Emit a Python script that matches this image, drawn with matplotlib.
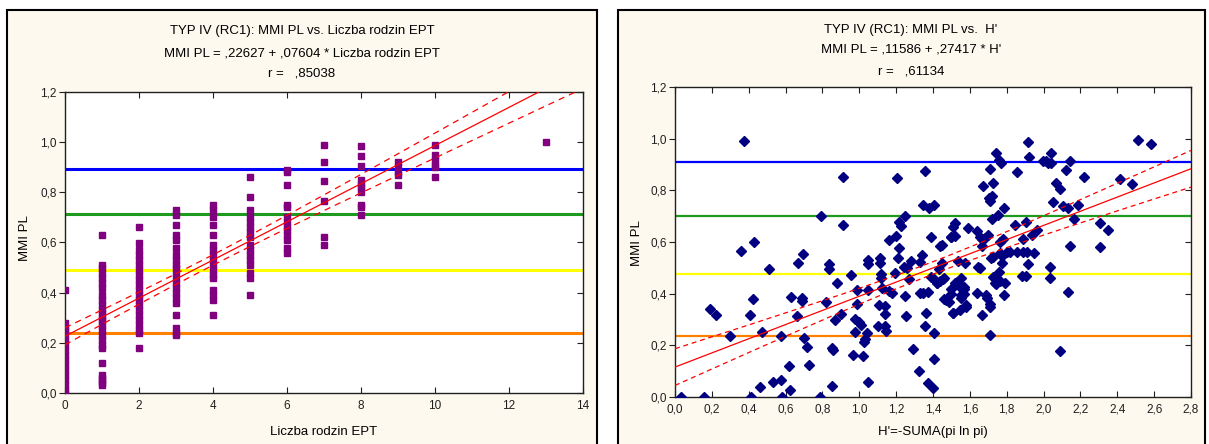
import numpy as np
import matplotlib
matplotlib.use("Agg")
import matplotlib.pyplot as plt
from matplotlib.patches import Rectangle
from matplotlib.ticker import FuncFormatter, MultipleLocator

plt.rcParams['font.family'] = ['Liberation Sans', 'DejaVu Sans']

# ---------------- data: MMI PL vs number of EPT families ----------------
ept_levels = [0, 1, 2, 3, 4, 5, 6, 7, 8, 9, 10, 13]
mmi_ept0 = [0.41, 0.28, 0.26, 0.25, 0.23, 0.21, 0.19, 0.17, 0.15, 0.13, 0.11,
            0.09, 0.07, 0.05, 0.03, 0.01, 0.0]
mmi_ept1 = [0.63, 0.51, 0.50, 0.48, 0.46, 0.44, 0.42, 0.39, 0.37, 0.35, 0.33,
            0.32, 0.30, 0.29, 0.27, 0.25, 0.23, 0.21, 0.19, 0.18, 0.12, 0.07,
            0.06, 0.05, 0.04, 0.03]
mmi_ept2 = [0.66, 0.60, 0.57, 0.55, 0.53, 0.51, 0.49, 0.47, 0.45, 0.43, 0.41,
            0.39, 0.37, 0.35, 0.33, 0.31, 0.29, 0.27, 0.25, 0.24, 0.18]
mmi_ept3 = [0.73, 0.71, 0.67, 0.63, 0.61, 0.58, 0.55, 0.53, 0.51, 0.50, 0.48,
            0.46, 0.44, 0.42, 0.40, 0.38, 0.36, 0.31, 0.26, 0.24, 0.23]
mmi_ept4 = [0.75, 0.73, 0.70, 0.67, 0.63, 0.59, 0.57, 0.55, 0.53, 0.51, 0.49,
            0.47, 0.46, 0.41, 0.39, 0.37, 0.31]
mmi_ept5 = [0.86, 0.78, 0.73, 0.70, 0.68, 0.66, 0.64, 0.62, 0.59, 0.57, 0.55,
            0.53, 0.51, 0.48, 0.46, 0.39]
mmi_ept6 = [0.89, 0.88, 0.83, 0.75, 0.74, 0.70, 0.68, 0.66, 0.65, 0.63, 0.61,
            0.58, 0.56]
mmi_ept7 = [0.99, 0.92, 0.845, 0.765, 0.62, 0.59]
mmi_ept8 = [0.985, 0.945, 0.905, 0.85, 0.83, 0.82, 0.80, 0.75, 0.74, 0.71]
mmi_ept9 = [0.92, 0.90, 0.88, 0.87, 0.83]
mmi_ept10 = [0.99, 0.95, 0.93, 0.91, 0.90, 0.86]
mmi_ept13 = [1.00]
mmi_ept_groups = [mmi_ept0, mmi_ept1, mmi_ept2, mmi_ept3, mmi_ept4, mmi_ept5,
                  mmi_ept6, mmi_ept7, mmi_ept8, mmi_ept9, mmi_ept10, mmi_ept13]

ept_intercept, ept_slope, ept_r = 0.22627, 0.07604, 0.85038

# ---------------- data: MMI PL vs Shannon diversity H' ----------------
h_index = [
    0.03, 0.16, 0.19, 0.22, 0.30, 0.36, 0.377, 0.406, 0.41, 0.424, 0.428, 0.46,
    0.47, 0.51, 0.53, 0.574, 0.574, 0.58, 0.625, 0.62, 0.63, 0.66, 0.667, 0.69,
    0.69, 0.694, 0.70, 0.714, 0.728, 0.786, 0.79, 0.82, 0.837, 0.837, 0.85,
    0.86, 0.85, 0.866, 0.88, 0.90, 0.913, 0.91, 0.953, 0.964, 0.975, 0.978,
    0.99, 0.986, 0.996, 1.007, 1.02, 1.025, 1.03, 1.04, 1.045, 1.045, 1.047,
    1.047, 1.11, 1.11, 1.105, 1.10, 1.12, 1.12, 1.123, 1.14, 1.14, 1.14, 1.145,
    1.16, 1.163, 1.18, 1.196, 1.20, 1.206, 1.21, 1.214, 1.214, 1.228, 1.24,
    1.246, 1.26, 1.269, 1.25, 1.256, 1.281, 1.29, 1.323, 1.327, 1.342, 1.332,
    1.346, 1.363, 1.356, 1.374, 1.401, 1.408, 1.405, 1.346, 1.354, 1.38, 1.405,
    1.387, 1.372, 1.39, 1.405, 1.419, 1.432, 1.437, 1.451, 1.451, 1.455, 1.462,
    1.471, 1.486, 1.495, 1.50, 1.507, 1.496, 1.51, 1.517, 1.517, 1.528, 1.535,
    1.541, 1.544, 1.55, 1.554, 1.568, 1.572, 1.578, 1.592, 1.637, 1.637, 1.646,
    1.655, 1.655, 1.664, 1.664, 1.666, 1.67, 1.681, 1.692, 1.696, 1.704, 1.708,
    1.708, 1.712, 1.715, 1.719, 1.721, 1.726, 1.726, 1.726, 1.743, 1.741, 1.752,
    1.756, 1.761, 1.761, 1.763, 1.769, 1.773, 1.773, 1.78, 1.783, 1.792, 1.787,
    1.803, 1.818, 1.845, 1.857, 1.857, 1.884, 1.889, 1.889, 1.906, 1.904, 1.911,
    1.917, 1.917, 1.921, 1.939, 1.948, 1.966, 1.998, 2.013, 2.026, 2.039, 2.043,
    2.034, 2.037, 2.05, 2.066, 2.09, 2.09, 2.104, 2.124, 2.133, 2.133, 2.144,
    2.146, 2.166, 2.188, 2.22, 2.307, 2.305, 2.351, 2.416, 2.478, 2.511, 2.583,
    1.52, 1.55, 1.57, 1.55, 1.57, 1.58, 1.51, 1.69, 1.707, 1.736, 1.758, 1.42,
    1.44, 1.46, 1.712, 1.50,
]
mmi_h = [
    0.00, 0.00, 0.34, 0.317, 0.237, 0.565, 0.99, 0.317, 0.00, 0.38, 0.60, 0.04,
    0.25, 0.494, 0.06, 0.067, 0.235, 0.00, 0.028, 0.119, 0.387, 0.312, 0.519,
    0.382, 0.373, 0.553, 0.228, 0.192, 0.124, 0.00, 0.702, 0.369, 0.516, 0.497,
    0.188, 0.183, 0.044, 0.297, 0.44, 0.321, 0.852, 0.666, 0.471, 0.164, 0.302,
    0.253, 0.415, 0.361, 0.289, 0.28, 0.16, 0.212, 0.225, 0.248, 0.53, 0.515,
    0.413, 0.057, 0.54, 0.52, 0.356, 0.276, 0.477, 0.462, 0.422, 0.351, 0.321,
    0.276, 0.254, 0.412, 0.608, 0.403, 0.48, 0.622, 0.846, 0.538, 0.577, 0.676,
    0.66, 0.502, 0.702, 0.498, 0.455, 0.39, 0.313, 0.528, 0.185, 0.101, 0.523,
    0.55, 0.401, 0.401, 0.324, 0.275, 0.056, 0.033, 0.149, 0.247, 0.745, 0.876,
    0.731, 0.745, 0.62, 0.408, 0.466, 0.455, 0.44, 0.494, 0.584, 0.587, 0.52,
    0.455, 0.38, 0.375, 0.369, 0.42, 0.398, 0.324, 0.62, 0.659, 0.672, 0.623,
    0.447, 0.528, 0.43, 0.337, 0.385, 0.462, 0.418, 0.52, 0.35, 0.656, 0.643,
    0.404, 0.505, 0.50, 0.62, 0.61, 0.316, 0.584, 0.818, 0.616, 0.385, 0.628,
    0.771, 0.239, 0.35, 0.881, 0.54, 0.779, 0.69, 0.827, 0.541, 0.466, 0.946,
    0.437, 0.703, 0.917, 0.60, 0.556, 0.449, 0.904, 0.546, 0.52, 0.611, 0.732,
    0.44, 0.396, 0.563, 0.562, 0.664, 0.87, 0.562, 0.468, 0.61, 0.562, 0.676,
    0.468, 0.562, 0.515, 0.986, 0.928, 0.626, 0.556, 0.646, 0.915, 0.912, 0.905,
    0.946, 0.905, 0.502, 0.46, 0.754, 0.827, 0.804, 0.18, 0.741, 0.879, 0.731,
    0.405, 0.915, 0.585, 0.69, 0.742, 0.853, 0.675, 0.58, 0.646, 0.843, 0.823,
    0.995, 0.98,
    0.44, 0.43, 0.427, 0.395, 0.40, 0.356, 0.324, 0.395, 0.36, 0.44, 0.485,
    0.44, 0.45, 0.46, 0.76, 0.62,
]

h_intercept, h_slope, h_r = 0.11586, 0.27417, 0.61134

# class boundary lines (very good / good / moderate / poor)
class_colors = ['#0000FF', '#1E9A1E', '#FFFF00', '#FF8000']
ept_class_limits = [0.895, 0.712, 0.490, 0.238]
h_class_limits = [0.910, 0.700, 0.475, 0.235]


def stat_num(v):
    """Number written the Statistica way: ',22627'."""
    s = f"{v:.5f}"
    if s.startswith("0."):
        s = s[1:]
    return s.replace(".", ",")


def comma_fmt(decimals):
    return FuncFormatter(lambda v, _: f"{v:.{decimals}f}".replace(".", ","))


def conf_band(x, y, a, b, xs, t=1.97):
    x = np.asarray(x, float)
    y = np.asarray(y, float)
    n = len(x)
    resid = y - (a + b * x)
    s = np.sqrt(np.sum(resid ** 2) / (n - 2))
    xbar = x.mean()
    sxx = np.sum((x - xbar) ** 2)
    half = t * s * np.sqrt(1.0 / n + (xs - xbar) ** 2 / sxx)
    fit = a + b * xs
    return fit - half, fit + half


W, H = 1209, 444
fig = plt.figure(figsize=(W / 100, H / 100), dpi=100)
fig.patch.set_facecolor('white')

panel_bg = '#FDF9EE'
for x0, x1 in [(7, 597), (618, 1205)]:
    fig.patches.append(Rectangle((x0 / W, -0.05), (x1 - x0) / W, 1.05 - 10 / H,
                                 transform=fig.transFigure, facecolor=panel_bg,
                                 edgecolor='black', linewidth=1.5, zorder=-5))


def px_rect(l, t, r, b):
    return [l / W, 1 - b / H, (r - l) / W, (b - t) / H]


def style_axes(ax, xmax, xstep, xdec):
    ax.set_zorder(2)
    ax.set_facecolor('white')
    ax.set_ylim(0, 1.2)
    ax.set_xlim(0, xmax)
    ax.yaxis.set_major_locator(MultipleLocator(0.2))
    ax.xaxis.set_major_locator(MultipleLocator(xstep))
    ax.yaxis.set_major_formatter(comma_fmt(1))
    ax.xaxis.set_major_formatter(comma_fmt(xdec))
    for sp in ax.spines.values():
        sp.set_linewidth(1.0)
        sp.set_color('#202020')
    ax.tick_params(axis='x', direction='in', top=True, bottom=True, length=4,
                   width=0.8, labelsize=8.5, pad=5, colors='#202020')
    ax.tick_params(axis='y', direction='out', left=True, right=False, length=4,
                   width=0.8, labelsize=8.5, pad=2, colors='#202020')
    twin = ax.twinx()
    twin.set_zorder(3)
    twin.set_ylim(0, 1.2)
    twin.yaxis.set_major_locator(MultipleLocator(0.2))
    twin.tick_params(axis='y', direction='in', length=4, width=0.8,
                     labelright=False, colors='#202020')
    for sp in twin.spines.values():
        sp.set_visible(False)
    return twin


# ---------------- left panel ----------------
axL = fig.add_axes(px_rect(65, 92, 583, 393))
style_axes(axL, 14, 2, 0)
for lim, c in zip(ept_class_limits, class_colors):
    axL.axhline(lim, color=c, lw=2.2, zorder=2)
ept_x = np.concatenate([[lvl] * len(g) for lvl, g in zip(ept_levels, mmi_ept_groups)])
ept_y = np.concatenate(mmi_ept_groups)
axL.plot(ept_x, ept_y, linestyle='none', marker='s', ms=4.4, color='#800080',
         mec='#800080', zorder=3)
xs = np.linspace(0, 14, 200)
lo, hi = conf_band(ept_x, ept_y, ept_intercept, ept_slope, xs)
axL.plot(xs, ept_intercept + ept_slope * xs, color='#FF0000', lw=0.9, zorder=4)
for band in (lo, hi):
    axL.plot(xs, band, color='#FF0000', lw=0.9, ls=(0, (5, 4)), zorder=4)

cxL = 302 / W
fig.text(cxL, 1 - 31 / H, "TYP IV (RC1): MMI PL vs. Liczba rodzin EPT",
         ha='center', va='center', fontsize=9.5)
fig.text(cxL, 1 - 53 / H,
         f"MMI PL = {stat_num(ept_intercept)} + {stat_num(ept_slope)} * Liczba rodzin EPT",
         ha='center', va='center', fontsize=9.5)
fig.text(cxL, 1 - 74 / H, f"r =   {stat_num(ept_r)}", ha='center', va='center',
         fontsize=9.5)
fig.text(25 / W, 1 - 238 / H, "MMI PL", rotation=90, ha='center', va='center',
         fontsize=9.5)
fig.text(324 / W, 1 - 432 / H, "Liczba rodzin EPT", ha='center', va='center',
         fontsize=9.5)

# ---------------- right panel ----------------
axR = fig.add_axes(px_rect(675, 87, 1191, 397))
style_axes(axR, 2.8, 0.2, 1)
for lim, c in zip(h_class_limits, class_colors):
    axR.axhline(lim, color=c, lw=1.6, zorder=2)
axR.plot(h_index, mmi_h, linestyle='none', marker='D', ms=4.8, color='#000080',
         mec='#000080', zorder=3)
xs = np.linspace(0, 2.8, 200)
lo, hi = conf_band(h_index, mmi_h, h_intercept, h_slope, xs)
axR.plot(xs, h_intercept + h_slope * xs, color='#FF0000', lw=0.9, zorder=4)
for band in (lo, hi):
    axR.plot(xs, band, color='#FF0000', lw=0.9, ls=(0, (4, 3)), zorder=4)

cxR = 911 / W
fig.text(cxR, 1 - 30 / H, "TYP IV (RC1): MMI PL vs.  H'", ha='center',
         va='center', fontsize=9.5)
fig.text(cxR, 1 - 50 / H,
         f"MMI PL = {stat_num(h_intercept)} + {stat_num(h_slope)} * H'",
         ha='center', va='center', fontsize=9.5)
fig.text(cxR, 1 - 71 / H, f"r =   {stat_num(h_r)}", ha='center', va='center',
         fontsize=9.5)
fig.text(637 / W, 1 - 243 / H, "MMI PL", rotation=90, ha='center', va='center',
         fontsize=9.5)
fig.text(933 / W, 1 - 432 / H, "H'=-SUMA(pi ln pi)", ha='center', va='center',
         fontsize=9.5)

fig.savefig("out.png", dpi=100, facecolor=fig.get_facecolor())
